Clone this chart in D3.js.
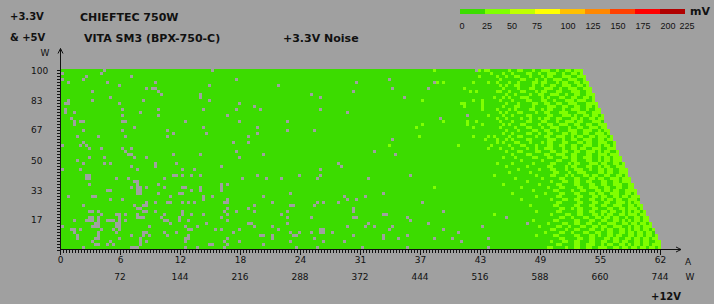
<!DOCTYPE html>
<html>
<head>
<meta charset="utf-8">
<script src="https://cdn.jsdelivr.net/npm/d3@7"></script>
<style>
  body { margin: 0; background: #a0a0a0; }
  text { font-family: "DejaVu Sans", sans-serif; fill: #111; }
</style>
</head>
<body>
<div id="chart"></div>
<script>
// Legend bins (mV) and colours
const legendSteps = [0, 25, 50, 75, 100, 125, 150, 175, 200, 225];
const legendColors = ["#3cdc00", "#80ff00", "#c0ff00", "#ffff00", "#ffc000", "#ff8800", "#ff4000", "#ff0000", "#b00000"];

// Axis tick labels
const ampLabels = [0, 6, 12, 18, 24, 31, 37, 43, 49, 55, 62];
const wattLabels = ["", 72, 144, 216, 288, 372, 444, 516, 588, 660, 744];
const loadLabels = [17, 33, 50, 67, 83, 100];

// Noise level per cell: a = under 25 mV, b = 25-50 mV, . = not measured
const levelMv = { a: 15, b: 35 };

// One string per load step (100% at top, 60 steps), one char per 12V step (200 steps of 0.31 A).
// "-" stands for ten "a" cells.
const noiseRows = [
  "- aaaa.aaaaa - - - .aaaaaaaaa - - - - - - aaaabaaaaa aaaaaaaa.b abbaaaaaab aabbaaabaa bbbaabaabb abbb",
  ".aaaaaaaaa aaa.aaaaaa - - - - - - - - - - - - aaabaaabaa baaaabbaab aabbbaabaa bbab",
  "aaaaaaaa.a - aaa.aaaaaa - - - - - - - - - - aaaaaaaaab aaaaabaaba abbaaabaaa babbaaabbb aabbb",
  ".aaaaaa.aa - - - - aaaaaaaa.a - - - - aaaaaaaaa. - - - aaaaaabaaa aaabbaaaba abaabbbaab bbaab",
  "aa.aaaaaaa aaaaa.aaaa - a.aaaaaaaa - - - - - aaaaaaaa.a - - aaaa.babaa aaaaaaabaa aabaabaaab aabaaaabba bbaaababba abbabb",
  "- aaaaaaaaa. - - aaaaaaaaa. - - aa.aaaaaaa - - - - - - aaaaaababa abbaaaabaa baabbaabbb aabbab",
  "- - aaaaaaaa.a ..aaaaaaaa - - - - - - - .aaaaaaaaa aa.aaaaaaa aaaabaaaaa aaaaaaabaa aabaaabbaa abbbaabaab bbaabbb",
  "- .aaaaaaaaa - aa.aaaaaaa - - - - - aaaaaaa.aa - - - aaaaaababa aaaaabbaab aaabbaaaba bbaaabbaaa bbbaabb",
  "- - - aaa.aaaaaa aaaaaa.aaa - - - aaa.aaaaaa - - - - - aaaaaaaaba abaaaabaab baabbbaaba abbaabbb",
  "- aaaaaa.aaa - - aaaaaa.aaa - - - aaaaaa.aaa - - aaaa.aaaaa - - aaaabaabab aaabbbaaaa babaaabbaa bbaabbab",
  "aa.aaaaaaa .aaaaaaaaa aaaaaaa.aa - aaaaaaaaa. - - - - - - - baaaaaaaaa aaaaaaabaa baaaaabaaa baaaabbaaa bbaabaaabb babbbaab",
  "a..aaaaaaa aaaaaaaaa. - - - aaaaaaaaa. - - - - - - - aaabbaaaaa baaaaaaaba aabaaaabba abbaabbaab bbaaabbbb",
  "- - - - - - aaaa.aaaaa - - - - - - aaaabaaaaa baaaaaabaa abbaaaabaa aabbbaabba abbaabbab",
  "a.aaaaaaaa - .aaaaaaaaa aa.aaaaaaa aaaaaaa.aa aaaaaaaa.a aaaaaa.aaa - aaaaaa.aaa - - - - - baaaabaaab abaaaabbaa babbaaabaa bbbaabaabb",
  "a.aa.aaaaa - aaaaaa.aaa - - - - - - aaaaa.aaaa - - - - aaaaaababa aabbaaaaba abbaaabbba aabbbaabbb",
  "- - .aaaaaaaaa aa.aaaaaaa - aaaaa.aaaa - - - - - - - aaaaa.aaaa aabaaaabaa baaaabbaaa aabbaaabbb abaabbabba b",
  "aaa.aaaaaa - - - - - - - - - - - aaaaaa.aaa - aaaaabaaba aaabaabaab abbaabbaaa bbabaabbab b",
  "aaaa.a..aa - ..aaaaaaaa - a.aaaaaaaa aaaaaaaaa. - aaaaa.aaaa - - - - aaaaaaabaa aaaaabaaba aaaaaabaaa baaaabbaaa bbaaabaabb babbaaabbb a",
  "aaaa.aaaaa - - - - - - - - - - - baaaaaaaaa aaaaabaaaa baaaaaabab aaabbaaaab aabbaabbba abbaabbaab bb",
  "- - aaaa.aaaaa - aaaaaaa.aa - aaaaa.aaaa - - - - aaaaaaaaba - aaaaaaabaa aaaaaabaaa abaaabbaaa baabbbaaab aabbaabbba bb",
  "aaaaaaa.aa - .aaaaaaaaa aaaaa.aaaa - - - aaaaa.aaaa aaaa.aaaaa - - - - - aaaaaaaaba aabaaaabba abbaabaaab bbaabbbaab abb",
  "- - - aaaaaaa.aa aaaaaaaa.a - aaaaa.aaaa - - - - - - - aaaaaaabaa baaaabbaab aabbaaabba bbaabbaabb bab",
  "aaaaa.aaaa aa.aaaaaaa a.aaaaaaaa aaaaa.aaaa - - aa.aaaaaaa - - - - aaaaaaaaab - aaaaaaabaa aababaaaab aabbaaaaba abbaabbbaa babbaabbab bbab",
  "- - - - - - - - - - - .aaaaaaaaa - - abaaabaaba baaaabbaaa aabbbaabaa bbaabbbaab babb",
  "aaaaaaa.aa - - - - aaaaaaa.aa aa.aaaaaaa - - - - - - - aaaaababaa abbaaabaaa babbaaabba aabbabbaab bbaab",
  ".aaaaa.a.a - - - - - - - - - aaaaaaaaab - - aabaaaaaaa aaabaaaaab aaabbaaaba aabbaabbaa bbaabbbaab abbab",
  "aaaaaaaaa. aaa.aaaaaa .aa.aaaaaa - - - - - - - - - - - aabaaabaaa baaaabaaba abbbaaabaa bbabbaabbb aabbb",
  "- - a.aaaaaaaa - - aaaaaaaa.a - - - - aaaa.aaaaa - - - aaaaaaaaba aabbaaaabb aaabbaabba abbaabbbab abbaab",
  "- - aa..aaaaaa aaaaaaa.aa aaaaaa.aaa - aaaaaaa.aa - - - - a.aaaaaaaa - - - baaaabbaaa abbaabbbaa bbaaabbaab bbabbb",
  "aaaaaaaaa. aaaa.aaaaa aaaa.aaa.a - - aaaaaaaaa. - - - - - - - - aaaaaaabaa abaaaaabba aabbaaabba bbaabbbaab abbabbb",
  "aaaaa.aaaa - - - - - - - - - - - - - - aaabaaaaaa baaaabbaaa bbaaabbaab abbabbb",
  "aaaaaaa.aa aaaa.a.aaa - a.aaaaaa.a - - - - - aa.aaaaaaa - - - - aaaaabaaaa baaaaaabaa aaabbaaaab abbaaabbba bbaabbab",
  "- - aaa.aaaaaa a.aaaaaaaa - aaa.aaaaaa - - - aaa.aaaaaa - - - - aaaaaaaaba aaaaabaaaa aabbaaaaba bbaaabbaab abbaabbb",
  ".aaaaa.aaa - aaaaa.aaaa - .aaa.aaaaa - - - aaaaaa.aaa - - - - - - aabaaaaaab aaabbaaaba abbbaabaab babbaabbb",
  "- - - - - - - - - - - - - - aaaaaaaaab aaaaaabaaa aaaabbaaab aabbbaaaab babbaabbb",
  "aaaaaaaa.. - - aaaaaaa..a .aa.aa.aaa - aaaaa.aaaa aaaaaaaaa. aaaaaa.aaa - - aaaaaa.aaa - - aaaabaaaaa aaaaaaaaba aaabbaaaba baaabbabba abbaabbab",
  "aaaaaaaa.. aaaaaaaa.a aa.aaaaaaa aaaa.aaaaa - - .aaaaaaa.a aaa.aaaaaa aaaaa.aaaa - aa.aaaaaaa - - - - abaaaaaaaa baaaaabbaa abbaaabbab baabbbabbb",
  "- - aaaa..aaaa - - - - - - - - - - - - aaaaabaaaa aaabaaabba abbaabbaaa bbaabbabbb",
  "aaaaaaaaa. - aaaaa.aaaa aa.aaaaaaa - aaa.a.aaaa - - - - - - - - aaaaaaabaa aaaaaaaaab aaaaabbaaa abbaaabbaa bbaabbbaab b",
  "- - aaa.a..a.a aaaa.aaaaa ..aaaa.aaa aaa.aaaaaa - - - - - - aaaabaaaaa - - aaabaaaaaa aabaaabbaa aabbaabbba abbaabbaab b",
  "- aaaaa..aaa aaaaa..aaa - aaa.aa.aaa aaa.aaaaaa - - - - - - - - - aaaaaaabaa aaaabbaaaa baabbaaabb abbabbaabb bb",
  "- - aaaaa..aaa aa.aaaaaa. .aaaaaaaaa - - aaaaaa.aaa - - aaaaaaa.aa - - - - baaaaaaaaa abaaaabbaa abbaaabbab baabbbaabb ab",
  "aa.aaaaaaa ..aaaaaaaa - aaaaaa.aaa aaaaaaa.aa .aaaaaaaaa aaaaaaa.aa - - aaaa.aaaaa a.aaaaaaaa - - - - aaaaaaaaba aaaaabbaaa aabbaaabba bbaabbabba bbb",
  "- aaaaaa.aaa .aaaaaaaaa - aaaaaaa.aa aaaaa.aaaa - - - aaaaa.aa.a - - - - - aaabaaaaaa aaabaaabba abbaaabbaa babbabbaab bba",
  "- - aaaaaaaa.a a.aaa..aaa .a.a.aaaaa aaaa..aaaa - .aaaaaaaaa aaaaa.a.aa aa.aaaaaaa - - .aaaaaaaaa - - - aaaaabbaaa aabbaaabba abbaabbbab abb",
  "aaaaaaa.aa - aaaa.aa..a - - - aaaa.aaaaa aaaaaa..aa aaaa.aaaaa - - - - - - aaaaaabaaa aaaabbaaaa abbaaabbaa bbaabbbaab babb",
  "- - aaaaa..aaa - - aaaaa.aaaa aa.aaaaaaa - - aaaaaaa.aa - - - - - - aaaaaabbaa babbaaabba aabbaabbab bbab",
  "aaaaaaaaa. .a.aaaaaaa aaaaaaa..a a.aaaaaaaa .aaaaaaaaa aaaa.aaa.a aaaa.aaaaa aaaaa.aaaa - aaaaaaa.aa - - aaaaaaa.aa - - aaaaaaaaba aaaaabbaaa aabbaabbaa bbabbaabab abbab",
  "- aaa.aaaa.. a.aaa.aaaa aaaa.aaaaa .aa.aaa.aa aaaaa.aaaa - aaa.aaaaaa - - aaaaaaa..a - - - aaaabaaaaa - aaabaaaabb aabbaaabba babbaabbab bbabb",
  "aaaaaaaaa. .a.aaaaaa. aaaaa...aa aaa.aaaaa. - aaa.aaaaaa - aaaaa.aaaa aaa.aaaaaa aaaaaaa..a - aaaaa.aaaa - - aaaaaaaa.a - aaaaaabbaa baaabbaabb abbabbaaba abbabb",
  "aaaa.aaa.. .a.aa...a. a.aaaaaaaa aaaa..aaa. aa.aaaaaaa aaaaa.aaaa - - - - - aaaaaa.aaa - - - aaaaaaabaa aaaabbaaaa abbaaabbaa bbaabbabab abbabb",
  "- a..aaaaa.. - aaaaaa.aaa aaaaaaaa.a - aa..aaaaaa aaaaa.aaaa - - aa.aaaaaaa - aa.aaaaaaa - - aaaaa.aaaa aabaaaabba abbaabbaab aabbbaabba bbabbab",
  ".aaaaaaaaa ...aaaaa.. aaaaaaaaa. - a.aaa.aaaa - aaaa.aaaaa .aaaaaaaaa - aaaaa.aaaa a.aa.aaaaa .aaaaaaaaa - - .aaaaaaaaa aaaaaaaaab aaaaabbaab aaabbaabba bbaabbbaab abbabbb",
  "aaa..a.aaa aaa.aaa.a. - - aa..aaaaaa a.a.aaaaa. - aa.aaaaaaa aaaaaa..aa - aaaaaaaaa. - aaaaaaa.aa - - - aaabbaaaba abbaaabbaa babbaabbab abbabbab",
  "aaaa.aaaaa aa.aaaaa.a aaaaaaa..a aaaa.aaa.a - aaaaaaa.aa - aaaaaa.aa. aaa.aa..aa .aaaaaaaaa - - - aa.aaaaaaa - - abaaaabbaa baaabbaabb aabbaabbab babbabba",
  "aaaaa.aaaa aa.aaaaaaa aaa.aaa.a. aaaaa.aaaa aa.aaaaaaa - aaaaaa..aa .aaaaaa..a - aaaaaaa.aa aaaaaaa.aa aaaaa.aaaa - - - aaaaaaaaba aaaabbaaaa abbaaabbab aabbabbaab babbabbab",
  "aaaaa.aaaa a..aaaaaa. aaaaaa.aaa - a..aaaaaaa aaaaa.aaaa - .aaaaaaaaa aaaa.aaaaa - aaaaaaa.aa aa.aaaaaaa aaaa.aaaaa .aaaaaaaaa aa.aaaaaaa - aaaaaabbaa aabbaabbaa abbabbaabb abbabbabb",
  "- .aaaaa.aaa aaaaaa.a.a - a.aaaaaaaa aaaa.aaaa. - aaaaaa.aaa aaaaaaa.aa aaaa.aaaaa - - - aaa.aaaaaa - - aaabaaabba abbaaabbaa bbaabbabba abbabbaabb",
  "- a..aa.a.aa aaaaaa.aaa - aaaaaaaaa. .aaaa.aaaa aaaaaaa.aa - - - - - - - - - aaaaabbaaa abbaabbbaa babbaabbab abbabbabbb",
  "aaaaaaa.aa - aaa...aaaa - a.aaa.aaaa aaaa.aaaaa - aaaaaaaa.a aaaaa.aaaa - .aaaaaaaaa aaaaa.aaaa - - aa.aaaaaaa - aabbaaaaba abbaabbaab bbaabbabba bbabbabbab"
];

const W = 714, H = 304;
const ampStep = 62 / 200, loadStep = 100 / 60;

// decode the rows into cells
const cells = [];
noiseRows.forEach((row, r) => {
  const codes = row.split(" ").map(s => s === "-" ? "aaaaaaaaaa" : s).join("");
  [...codes].forEach((ch, c) => {
    if (ch in levelMv) cells.push({ amps: c * ampStep, load: 100 - r * loadStep, mv: levelMv[ch] });
  });
});

const svg = d3.select("#chart").append("svg")
  .attr("width", W)
  .attr("height", H);

svg.append("rect").attr("width", W).attr("height", H).attr("fill", "#a0a0a0");

const x = d3.scaleLinear().domain([0, 62]).range([60, 660]);
const y = d3.scaleLinear().domain([0, 100]).range([250, 70]);
const color = d3.scaleThreshold().domain(legendSteps.slice(1, -1)).range(legendColors);

// heatmap cells
svg.append("g")
  .attr("shape-rendering", "crispEdges")
  .selectAll("rect")
  .data(cells)
  .join("rect")
  .attr("x", d => x(d.amps) + 1)
  .attr("y", d => y(d.load) - 1)
  .attr("width", x(ampStep) - x(0))
  .attr("height", y(0) - y(loadStep))
  .attr("fill", d => color(d.mv));

// X axis: minor ticks, major ticks with amp labels
const axisColor = "#111";
const xMinor = svg.append("g")
  .attr("transform", `translate(0,250)`)
  .call(d3.axisBottom(x).tickValues(d3.range(0, 201).map(i => i * ampStep)).tickSize(3).tickFormat(""));
const xMajor = svg.append("g")
  .attr("transform", `translate(0,250)`)
  .call(d3.axisBottom(x).tickValues(ampLabels.map((d, i) => i * 6.2)).tickSize(5).tickPadding(2)
    .tickFormat((d, i) => ampLabels[i]));
[xMinor, xMajor].forEach(g => {
  g.select(".domain").remove();
  g.selectAll("line").attr("stroke", axisColor).attr("shape-rendering", "crispEdges");
});
xMajor.selectAll("text").style("font-size", "9px").attr("fill", "#111");

// second row: watts on 12V
svg.append("g").selectAll("text")
  .data(wattLabels)
  .join("text")
  .attr("x", (d, i) => x(i * 6.2))
  .attr("y", 280)
  .attr("text-anchor", "middle")
  .style("font-size", "9px")
  .text(d => d);

svg.append("text").attr("x", 688).attr("y", 265).attr("text-anchor", "middle").style("font-size", "9px").text("A");
svg.append("text").attr("x", 690).attr("y", 280).attr("text-anchor", "middle").style("font-size", "9px").text("W");

// Y axis: minor ticks on the left and labels
const yMinor = svg.append("g")
  .attr("transform", `translate(60,0)`)
  .call(d3.axisLeft(y).tickValues(d3.range(0, 61).map(i => i * loadStep)).tickSize(3).tickFormat(""));
yMinor.select(".domain").remove();
yMinor.selectAll("line").attr("stroke", axisColor).attr("shape-rendering", "crispEdges");

svg.append("g").selectAll("text")
  .data(loadLabels)
  .join("text")
  .attr("x", 31)
  .attr("y", d => y(d) + 3.5)
  .style("font-size", "9px")
  .text(d => d);
svg.append("text").attr("x", 45).attr("y", 56).attr("text-anchor", "middle").style("font-size", "9px").text("W");

// axis lines with arrows
svg.append("path")
  .attr("d", "M60.5,250.5 V48.5 M58,53.5 L60.5,48.5 L63,53.5")
  .attr("fill", "none").attr("stroke", axisColor);
svg.append("path")
  .attr("d", "M60,249.5 H681 M676,247 L681,249.5 L676,252")
  .attr("fill", "none").attr("stroke", axisColor);

// titles
const titles = [
  { t: "+3.3V", x: 10, y: 20, s: 10 },
  { t: "& +5V", x: 10, y: 41, s: 10 },
  { t: "CHIEFTEC 750W", x: 80, y: 21, s: 11 },
  { t: "VITA SM3 (BPX-750-C)", x: 84, y: 42, s: 11 },
  { t: "+3.3V Noise", x: 283, y: 42, s: 11 },
  { t: "+12V", x: 651, y: 300, s: 10 }
];
svg.append("g").selectAll("text")
  .data(titles)
  .join("text")
  .attr("x", d => d.x)
  .attr("y", d => d.y)
  .style("font-size", d => d.s + "px")
  .style("font-weight", "bold")
  .text(d => d.t);

// legend
const lx = d3.scaleLinear().domain([0, 225]).range([460, 685]);
svg.append("g")
  .attr("shape-rendering", "crispEdges")
  .selectAll("rect")
  .data(legendColors)
  .join("rect")
  .attr("x", (d, i) => lx(legendSteps[i]))
  .attr("y", 9)
  .attr("width", (d, i) => lx(legendSteps[i + 1]) - lx(legendSteps[i]))
  .attr("height", 5)
  .attr("fill", d => d);
svg.append("g").selectAll("text")
  .data(legendSteps)
  .join("text")
  .attr("x", d => lx(d) + (d >= 100 && d < 225 ? 8 : 2))
  .attr("y", 29)
  .attr("text-anchor", "middle")
  .style("font-family", "'Liberation Sans', sans-serif")
  .style("font-size", "9px")
  .text(d => d);
svg.append("text").attr("x", 690).attr("y", 15).style("font-size", "11px").style("font-weight", "bold").text("mV");
</script>
</body>
</html>
